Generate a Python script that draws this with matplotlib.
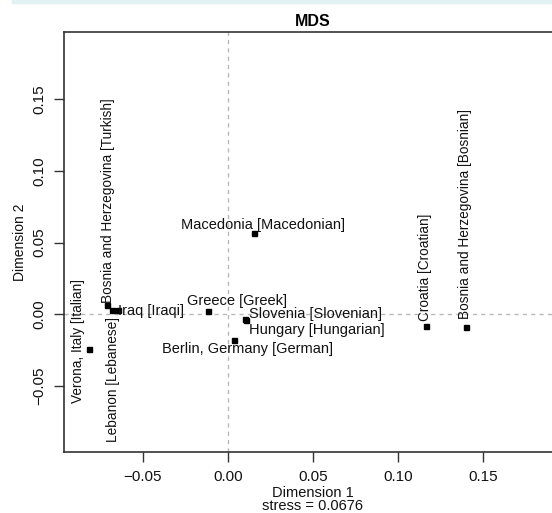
import matplotlib
matplotlib.use("Agg")

import matplotlib.pyplot as plt
from matplotlib.patches import Rectangle

plt.rcParams["font.family"] = ["Liberation Sans", "DejaVu Sans"]

# MDS coordinates
names = [
    "Macedonia [Macedonian]",
    "Greece [Greek]",
    "Slovenia [Slovenian]",
    "Hungary [Hungarian]",
    "Berlin, Germany [German]",
    "Iraq [Iraqi]",
    "Lebanon [Lebanese]",
    "Verona, Italy [Italian]",
    "Bosnia and Herzegovina [Turkish]",
    "Croatia [Croatian]",
    "Bosnia and Herzegovina [Bosnian]",
]
dim1 = [0.0155, -0.0118, 0.0102, 0.0106, 0.0039, -0.0645, -0.0680, -0.0814, -0.0708, 0.1165, 0.1402]
dim2 = [0.0567, 0.0023, -0.0035, -0.0040, -0.0179, 0.0030, 0.0030, -0.0244, 0.0065, -0.0079, -0.0086]
stress = 0.0676

xticks = [-0.05, 0.00, 0.05, 0.10, 0.15]
yticks = [-0.05, 0.00, 0.05, 0.10, 0.15]

# label placement (centre of text, data units) and rotation
label_pos = [
    (0.0208, 0.0623, 0),
    (0.0055, 0.0093, 0),
    (0.0514, 0.0000, 0),
    (0.0522, -0.0109, 0),
    (0.0114, -0.0242, 0),
    (-0.0453, 0.0023, 0),
    (-0.0675, -0.0455, 90),
    (-0.0882, -0.0183, 90),
    (-0.0702, 0.0795, 90),
    (0.1161, 0.0330, 90),
    (0.1396, 0.0700, 90),
]


def fmt(t):
    return f"{t:.2f}".replace("-", "\u2212")


fig = plt.figure(figsize=(5.52, 5.13), dpi=100)
fig.patches.append(Rectangle((12 / 552, 1 - 3 / 513), 1, 3 / 513, transform=fig.transFigure,
                             color="#e2f1f1", zorder=0))

ax = fig.add_axes([64.3 / 552, 1 - 452.3 / 513, (561 - 64.3) / 552, (452.3 - 31.7) / 513])
ax.set_xlim(-0.0961, 0.196)
ax.set_ylim(-0.0962, 0.197)

ax.axhline(0, color="#b8b8b8", lw=1, ls=(0, (3, 3)), zorder=1)
ax.axvline(0, color="#b8b8b8", lw=1, ls=(0, (3, 3)), zorder=1)

ax.plot(dim1, dim2, "s", color="black", markersize=3.6, zorder=3)
for name, (lx, ly, rot) in zip(names, label_pos):
    ax.text(lx, ly, name, rotation=rot, ha="center", va="center",
            fontsize=10.5 if rot == 0 else 9.8, color="#111111", zorder=4)

ax.set_xticks(xticks)
ax.set_xticklabels([fmt(t) for t in xticks])
ax.set_yticks(yticks)
ax.set_yticklabels([fmt(t) for t in yticks], rotation=90, va="center", fontsize=10.5)
ax.tick_params(direction="out", length=7, width=1, labelsize=11, color="#333333",
               labelcolor="#111111", pad=6)

for side in ["left", "top", "bottom", "right"]:
    ax.spines[side].set_linewidth(1.2)
    ax.spines[side].set_color("#333333")

ax.set_xlabel(f"Dimension 1\nstress = {stress}", fontsize=10.5, linespacing=0.95,
              labelpad=1, color="#111111")
ax.set_ylabel("Dimension 2", fontsize=10, labelpad=4, color="#111111")
ax.set_title("MDS", fontsize=11.5, fontweight="bold", pad=4)

fig.savefig("out.png", dpi=100)
